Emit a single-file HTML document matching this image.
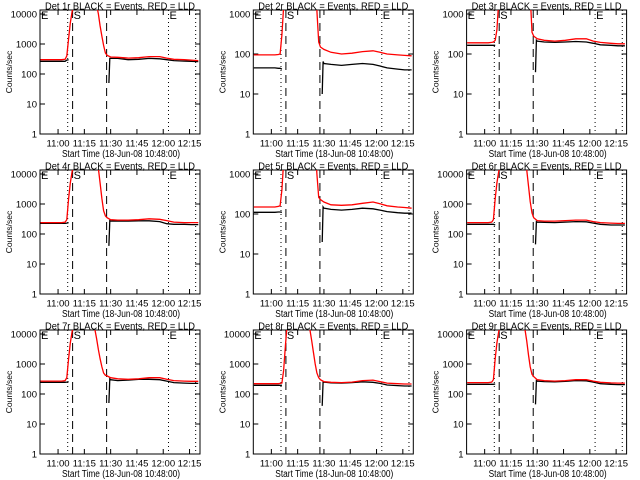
<!DOCTYPE html>
<html><head><meta charset="utf-8"><style>
html,body{margin:0;padding:0;background:#fff;}
svg{display:block;font-family:"Liberation Sans",sans-serif;}
</style></head><body>
<svg id="c" width="640" height="480" viewBox="0 0 640 480"></svg>
<script>
// shared time grids (minutes after 10:48:00)
const redTimes = [2,8,14,16,17,18,19,20,21,30,32,33,34,35,36,37,38,39,40,42,46,52,58,64,70,74,78,84,88,92];
const blackTimes = [2,8,14,16,17,18,18,41,41.5,42,46,52,58,64,70,74,78,84,88,92];
const tickMinutes = [12,27,42,57,72,87];
const tickLabels = ["11:00","11:15","11:30","11:45","12:00","12:15"];
const markerDotted = [17.5,75,90.5];
const markerDashed = [20.3,39.7];
const detNames = ["1r","2r","3r","4r","5r","6r","7r","8r","9r"];
const topDecade = [4,3,3,4,3,4,4,4,4];
const red1 = [300,300,300,310,400,1500,5000,12000,20000,20000,20000,20000,20000,10000,4000,1800,900,500,420,370,360,340,350,380,380,340,310,300,290,280];
const red2 = [95,95,95,97,100,300,1500,5000,5000,5000,5000,5000,5000,5000,5000,5000,1200,200,150,130,110,100,105,115,120,110,100,95,92,90];
const red3 = [190,190,190,195,200,220,400,2000,5000,5000,5000,5000,5000,5000,5000,5000,3000,350,280,240,220,210,220,240,240,210,195,185,180,180];
const red4 = [240,240,240,250,300,1500,5000,12000,20000,20000,20000,20000,20000,15000,5000,1500,600,400,350,300,290,290,300,320,310,280,250,240,240,240];
const red5 = [150,150,150,155,160,400,2000,5000,5000,5000,5000,5000,5000,5000,5000,5000,1000,260,230,200,170,165,170,185,200,180,160,150,145,140];
const red6 = [240,240,240,250,300,1500,5000,12000,20000,20000,20000,20000,20000,20000,14000,4000,1200,500,350,280,270,270,280,290,290,260,240,230,225,225];
const red7 = [270,270,270,280,350,1500,5000,12000,20000,20000,20000,14000,7000,3000,1500,800,500,420,400,350,320,310,320,350,350,310,280,270,265,265];
const red8 = [220,220,220,220,225,230,600,4000,20000,20000,20000,20000,14000,6000,2500,1000,500,350,300,260,245,240,250,280,290,260,230,220,215,215];
const red9 = [240,240,240,250,300,1500,5000,12000,20000,20000,20000,20000,20000,14000,6000,2000,800,450,380,300,280,270,280,300,300,270,245,235,230,230];
const black1 = [265,265,265,265,290,300,null,50,330,330,330,300,310,330,320,300,280,270,265,260];
const black2 = [45,45,45,44,44,42,null,10,65,58,55,52,55,58,55,50,45,42,40,40];
const black3 = [165,165,165,165,165,165,null,35,220,210,200,195,200,205,200,185,170,165,160,160];
const black4 = [225,225,225,225,230,240,null,40,280,270,270,270,275,275,260,220,210,210,205,205];
const black5 = [110,110,110,112,112,110,null,20,150,140,130,125,130,140,135,125,115,108,105,105];
const black6 = [210,210,210,210,210,200,null,45,260,250,245,240,250,260,255,230,210,200,200,200];
const black7 = [245,245,245,245,250,260,null,50,320,300,280,290,310,310,300,270,240,230,225,225];
const black8 = [195,195,195,195,195,195,null,40,260,250,235,230,240,255,245,225,200,190,185,185];
const black9 = [210,210,210,210,210,215,null,45,280,270,260,255,265,280,275,250,220,210,205,205];
const reds = [red1,red2,red3,red4,red5,red6,red7,red8,red9];
const blacks = [black1,black2,black3,black4,black5,black6,black7,black8,black9];

const NS = "http://www.w3.org/2000/svg";
const svg = document.getElementById("c");
function mk(tag, attrs, parent){const e=document.createElementNS(NS,tag);for(const k in attrs)e.setAttribute(k,attrs[k]);parent.appendChild(e);return e;}
const BX0=40,BX1=200,BY0=10,BY1=134,TICKY=14;

for(let p=0;p<9;p++){
  const col=p%3,row=Math.floor(p/3);
  const g=mk("g",{transform:`translate(${col*213.3},${row*160})`},svg);
  
  
  const td=topDecade[p];
  const perDec=(BY1-TICKY)/td;
  const xs=t=>BX0+(t-1.7)*1.753;
  const ys=v=>BY1-Math.log10(Math.max(v,1e-3))*perDec;
  const cid='clip'+p;
  const cp=mk("clipPath",{id:cid},g);
  mk("rect",{x:BX0,y:BY0,width:BX1-BX0,height:BY1-BY0},cp);
  const title=mk("text",{x:120,y:9.5,"text-anchor":"middle","font-size":"10.5",textLength:150,lengthAdjust:"spacingAndGlyphs"},g);
  title.textContent="Det "+detNames[p]+" BLACK = Events, RED = LLD";
  
  
  const fr=mk("rect",{x:BX0,y:BY0,width:BX1-BX0,height:BY1-BY0,fill:"none",stroke:"#000","stroke-width":1},g);
  
  
  for(let d=0;d<=td;d++){
    const y=ys(Math.pow(10,d));
    mk("line",{x1:BX0,x2:BX0+5,y1:y,y2:y,stroke:"#000"},g);
    mk("line",{x1:BX1-5,x2:BX1,y1:y,y2:y,stroke:"#000"},g);
    const t=mk("text",{x:37,y:y+3.5,"text-anchor":"end","font-size":"9.5"},g);
    t.textContent=String(Math.pow(10,d));
    
    
  }
  const yt=mk("text",{x:0,y:0,"text-anchor":"middle","font-size":"8.5",transform:`translate(12,72) rotate(-90)`},g);
  yt.textContent="Counts/sec";
  
  
  tickMinutes.forEach((m,i)=>{
    const x=xs(m);
    mk("line",{x1:x,x2:x,y1:BY1,y2:BY1-5,stroke:"#000"},g);
    mk("line",{x1:x,x2:x,y1:BY0,y2:BY0+5,stroke:"#000"},g);
    const t=mk("text",{x:x,y:146.5,"text-anchor":"middle","font-size":"9.5"},g);
    t.textContent=tickLabels[i];
    
    
  });
  const xt=mk("text",{x:121,y:157,"text-anchor":"middle","font-size":"10",textLength:118,lengthAdjust:"spacingAndGlyphs"},g);
  xt.textContent="Start Time (18-Jun-08 10:48:00)";
  
  
  markerDotted.forEach(m=>{
    const l=mk("line",{x1:xs(m),x2:xs(m),y1:BY0,y2:BY1,stroke:"#000","stroke-dasharray":"1,3"},g);
    
    
  });
  markerDashed.forEach(m=>{
    const l=mk("line",{x1:xs(m),x2:xs(m),y1:BY0,y2:BY1,stroke:"#000","stroke-dasharray":"8,5"},g);
    
    
  });
  [[BX0+1,"E"],[xs(20.3)+1,"S"],[xs(75)+1,"E"]].forEach(([x,s])=>{
    const t=mk("text",{x:x,y:19,"font-size":"11"},g);
    t.textContent=s;
    
    
  });
  const mkPath=(times,vals)=>{let d="",pen=false;times.forEach((t,i)=>{const v=vals[i];if(v===null){pen=false;return;}d+=(pen?"L":"M")+xs(t).toFixed(1)+","+ys(v).toFixed(1);pen=true;});return d;};
  const bl=mk("path",{d:mkPath(blackTimes,blacks[p]),fill:"none",stroke:"#000","stroke-width":1.3,"clip-path":`url(#${cid})`},g);
  
  
  const rd=mk("path",{d:mkPath(redTimes,reds[p]),fill:"none",stroke:"#f00","stroke-width":1.3,"clip-path":`url(#${cid})`},g);
  
  
}
</script>
</body></html>
